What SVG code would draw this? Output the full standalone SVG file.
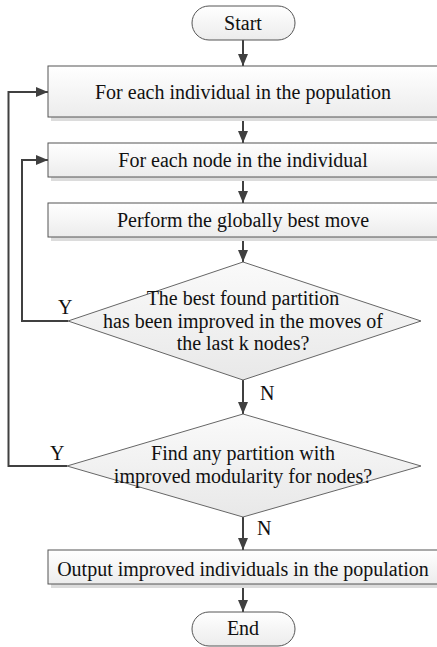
<svg xmlns="http://www.w3.org/2000/svg" width="437" height="647" viewBox="0 0 437 647">
<defs>
<linearGradient id="g" x1="0" y1="0" x2="0" y2="1"><stop offset="0" stop-color="#ffffff"/><stop offset="1" stop-color="#ececec"/></linearGradient>
<linearGradient id="gd" x1="0" y1="0" x2="0" y2="1"><stop offset="0" stop-color="#fafafa"/><stop offset="1" stop-color="#e8e8e8"/></linearGradient>
<marker id="a" viewBox="0 0 12 10" refX="12" refY="5" markerWidth="12" markerHeight="10" markerUnits="userSpaceOnUse" orient="auto"><path d="M0,0 L12,5 L0,10 z" fill="#404040"/></marker>
</defs>
<g font-family="'Liberation Serif', serif" font-size="20" fill="#111">
<g id="connectors" stroke="#404040" stroke-width="2" fill="none">
<path d="M243,40 V66" marker-end="url(#a)"/>
<path d="M243,117 V143" marker-end="url(#a)"/>
<path d="M243,177 V203" marker-end="url(#a)"/>
<path d="M243,237 V262" marker-end="url(#a)"/>
<path d="M243,380 V414" marker-end="url(#a)"/>
<path d="M243,517 V550" marker-end="url(#a)"/>
<path d="M243,584 V612" marker-end="url(#a)"/>
<path d="M68,321 H22 V160 H48" marker-end="url(#a)"/>
<path d="M67,466 H8.5 V92 H48" marker-end="url(#a)"/>
<g stroke="none" fill="#111">
<text x="58" y="314">Y</text>
<text x="50" y="460">Y</text>
<text x="260" y="400">N</text>
<text x="257" y="535">N</text>
</g>
</g>
<g text-anchor="middle">
<g id="start">
<rect x="192" y="6" width="103" height="34" rx="17" fill="url(#g)" stroke="#555"/>
<text x="243" y="30">Start</text>
</g>
<g id="box1">
<rect x="51" y="70" width="390" height="51" fill="#dcdcdc"/>
<rect x="48" y="66" width="390" height="51" fill="url(#g)" stroke="#555"/>
<text x="243" y="98.5">For each individual in the population</text>
</g>
<g id="box2">
<rect x="51" y="147" width="390" height="34" fill="#dcdcdc"/>
<rect x="48" y="143" width="390" height="34" fill="url(#g)" stroke="#555"/>
<text x="243" y="166.5">For each node in the individual</text>
</g>
<g id="box3">
<rect x="51" y="207" width="390" height="34" fill="#dcdcdc"/>
<rect x="48" y="203" width="390" height="34" fill="url(#g)" stroke="#555"/>
<text x="243" y="226.5">Perform the globally best move</text>
</g>
<g id="decision1">
<polygon points="243,262 421,321 243,380 68,321" fill="url(#gd)" stroke="#666"/>
<text x="243" y="305">The best found partition</text>
<text x="243" y="327.5">has been improved in the moves of</text>
<text x="243" y="350">the last k nodes?</text>
</g>
<g id="decision2">
<polygon points="243,414 421,466 243,517 67,466" fill="url(#gd)" stroke="#666"/>
<text x="243" y="460">Find any partition with</text>
<text x="243" y="482.5">improved modularity for nodes?</text>
</g>
<g id="box4">
<rect x="51" y="554" width="390" height="34" fill="#dcdcdc"/>
<rect x="48" y="550" width="390" height="34" fill="url(#g)" stroke="#555"/>
<text x="243" y="575.5">Output improved individuals in the population</text>
</g>
<g id="end">
<rect x="192" y="612" width="103" height="34" rx="17" fill="url(#g)" stroke="#555"/>
<text x="243" y="635">End</text>
</g>
</g>
</g>
</svg>
